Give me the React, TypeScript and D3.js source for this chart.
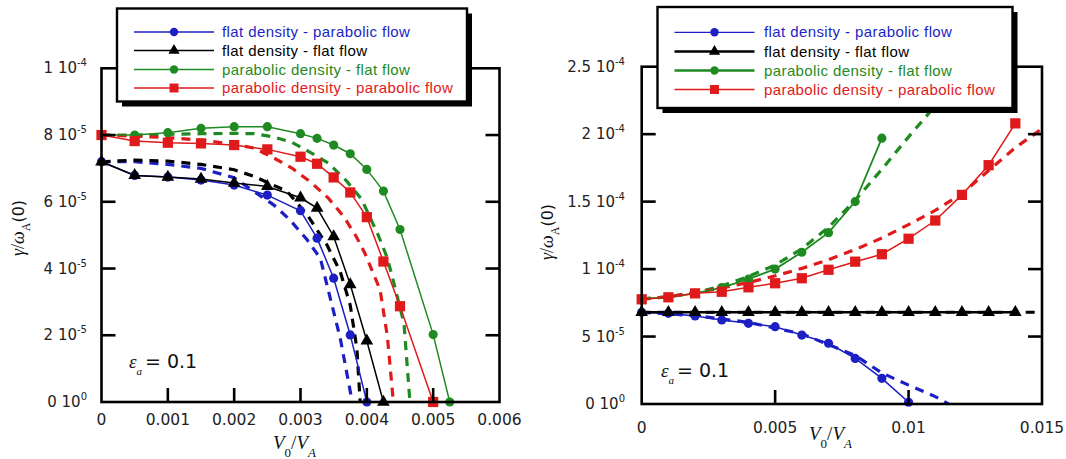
import React from "react";
import * as d3 from "d3";

const W = 1066;
const H = 459;

const BLUE = "#1c1fc4";
const BLACK = "#000000";
const GREEN = "#1f8a22";
const RED = "#e01a1a";

// ---------- LEFT PANEL DATA (gamma/omega_A in units of 1e-5) ----------
const L_xTicks = [0, 0.001, 0.002, 0.003, 0.004, 0.005, 0.006];
const L_xTickLabels = ["0", "0.001", "0.002", "0.003", "0.004", "0.005", "0.006"];
const L_yTicks = [0, 2e-5, 4e-5, 6e-5, 8e-5, 1e-4];
const L_yTickMant = ["0", "2", "4", "6", "8", "1"];
const L_yTickExp = ["0", "-5", "-5", "-5", "-5", "-4"];

const L_blueX = [0, 0.0005, 0.001, 0.0015, 0.002, 0.0025, 0.003, 0.00325, 0.0035, 0.00375, 0.004];
const L_blueY = [7.2, 6.79, 6.74, 6.65, 6.5, 6.2, 5.73, 4.91, 3.71, 2.01, 0];
const L_blackX = [0, 0.0005, 0.001, 0.0015, 0.002, 0.0025, 0.003, 0.00325, 0.0035, 0.00375, 0.004, 0.00425];
const L_blackY = [7.2, 6.79, 6.74, 6.68, 6.56, 6.46, 6.12, 5.81, 4.96, 3.52, 1.83, 0];
const L_greenX = [0, 0.0005, 0.001, 0.0015, 0.002, 0.0025, 0.003, 0.00325, 0.0035, 0.00375, 0.004, 0.00425, 0.0045, 0.005, 0.00525];
const L_greenY = [8.0, 8.0, 8.07, 8.2, 8.25, 8.25, 8.04, 7.9, 7.7, 7.44, 6.97, 6.32, 5.17, 2.02, 0];
const L_redX = [0, 0.0005, 0.001, 0.0015, 0.002, 0.0025, 0.003, 0.00325, 0.0035, 0.00375, 0.004, 0.00425, 0.0045, 0.005];
const L_redY = [8.0, 7.82, 7.77, 7.75, 7.7, 7.57, 7.35, 7.14, 6.73, 6.28, 5.54, 4.21, 2.87, 0];

const L_blueDashX = [0, 0.0005, 0.001, 0.0015, 0.002, 0.0023, 0.0026, 0.00284, 0.0031, 0.0033, 0.00345, 0.0036, 0.00378];
const L_blueDashY = [7.2, 7.2, 7.12, 7.0, 6.72, 6.31, 5.9, 5.46, 4.86, 4.3, 3.1, 1.9, 0];
const L_blackDashX = [0, 0.0005, 0.001, 0.0015, 0.002, 0.0023, 0.0028, 0.0031, 0.0034, 0.0036, 0.00375, 0.00385, 0.0039];
const L_blackDashY = [7.2, 7.25, 7.22, 7.12, 6.96, 6.76, 6.31, 5.61, 4.7, 3.9, 2.9, 1.6, 0];
const L_greenDashX = [0, 0.0005, 0.001, 0.0015, 0.002, 0.0023, 0.0026, 0.00287, 0.00314, 0.00342, 0.0037, 0.00392, 0.00417, 0.0043, 0.00437, 0.00456, 0.00465];
const L_greenDashY = [8.0, 8.0, 8.02, 8.04, 8.05, 8.04, 7.94, 7.78, 7.49, 7.16, 6.61, 6.08, 5.01, 4.36, 3.86, 2.36, 0];
const L_redDashX = [0, 0.0005, 0.001, 0.0015, 0.002, 0.0023, 0.0026, 0.00287, 0.00314, 0.00342, 0.00365, 0.00384, 0.00397, 0.0042, 0.00431, 0.0044];
const L_redDashY = [8.0, 7.97, 7.92, 7.85, 7.72, 7.61, 7.31, 7.01, 6.61, 6.11, 5.56, 4.96, 4.46, 3.36, 1.96, 0];

// ---------- RIGHT PANEL DATA (units of 1e-5) ----------
const R_xTicks = [0, 0.005, 0.01, 0.015];
const R_xTickLabels = ["0", "0.005", "0.01", "0.015"];
const R_yTicks = [0, 5e-5, 1e-4, 1.5e-4, 2e-4, 2.5e-4];
const R_yTickMant = ["0", "5", "1", "1.5", "2", "2.5"];
const R_yTickExp = ["0", "-5", "-4", "-4", "-4", "-4"];

const R_blueX = [0, 0.001, 0.002, 0.003, 0.004, 0.005, 0.006, 0.007, 0.008, 0.009, 0.01];
const R_blueY = [6.8, 6.72, 6.52, 6.23, 5.98, 5.73, 5.11, 4.5, 3.38, 1.9, 0.13];
const R_blackX = [0, 0.001, 0.002, 0.003, 0.004, 0.005, 0.006, 0.007, 0.008, 0.009, 0.01, 0.011, 0.012, 0.013, 0.014];
const R_blackY = [6.8, 6.8, 6.8, 6.8, 6.8, 6.8, 6.8, 6.8, 6.8, 6.8, 6.8, 6.8, 6.8, 6.8, 6.8];
const R_greenX = [0, 0.001, 0.002, 0.003, 0.004, 0.005, 0.006, 0.007, 0.008, 0.009];
const R_greenY = [7.8, 7.9, 8.2, 8.63, 9.25, 10.0, 11.25, 12.7, 15.0, 19.7];
const R_redX = [0, 0.001, 0.002, 0.003, 0.004, 0.005, 0.006, 0.007, 0.008, 0.009, 0.01, 0.011, 0.012, 0.013, 0.014];
const R_redY = [7.76, 7.91, 8.2, 8.32, 8.65, 8.95, 9.32, 9.95, 10.55, 11.1, 12.25, 13.6, 15.5, 17.7, 20.8];

const R_blueDashX = [0, 0.002, 0.004, 0.006, 0.008, 0.009, 0.01, 0.011, 0.0115];
const R_blueDashY = [6.8, 6.55, 6.05, 5.2, 3.6, 2.3, 1.4, 0.55, 0];
const R_blackDashX = [0, 0.005, 0.01, 0.015];
const R_blackDashY = [6.8, 6.8, 6.8, 6.8];
const R_greenDashX = [0, 0.001, 0.002, 0.003, 0.004, 0.005, 0.006, 0.007, 0.008, 0.009, 0.01, 0.011, 0.012, 0.013];
const R_greenDashY = [7.8, 7.95, 8.25, 8.75, 9.45, 10.3, 11.5, 13.1, 15.1, 17.4, 19.8, 22.1, 24.7, 27.3];
const R_redDashX = [0, 0.001, 0.002, 0.003, 0.004, 0.005, 0.006, 0.007, 0.008, 0.009, 0.01, 0.011, 0.012, 0.013, 0.014, 0.015];
const R_redDashY = [7.76, 7.95, 8.25, 8.6, 9.0, 9.5, 10.05, 10.7, 11.45, 12.3, 13.3, 14.35, 15.6, 17.3, 19.0, 20.4];

const legendLabels = [
  "flat density - parabolic flow",
  "flat density - flat flow",
  "parabolic density - flat flow",
  "parabolic density - parabolic flow",
];
const legendColors = [BLUE, BLACK, GREEN, RED];
const legendShapes = ["circle", "triangle", "circle", "square"];

type Series = {
  x: number[];
  y: number[];
  color: string;
  shape?: string;
  dashed?: boolean;
  width?: number;
};

type PanelCfg = {
  id: string;
  left: number;
  right: number;
  top: number;
  bottom: number;
  xMax: number;
  yMax: number;
  xTicks: number[];
  xTickLabels: string[];
  xInnerTicks: number[];
  yTicks: number[];
  yMant: string[];
  yExp: string[];
  series: Series[];
  legend: { x: number; y: number; w: number; h: number; lineX0: number; lineX1: number; textX: number; rows: number[]; widths: number[] };
  xTitle: { x: number; y: number };
  yTitle: { x: number; y: number };
  eps: { x: number; y: number };
  yLabelRight: number;
  xLabelBaseline: number;
};

function markerPath(shape: string, size: number) {
  const t =
    shape === "triangle" ? d3.symbolTriangle : shape === "square" ? d3.symbolSquare : d3.symbolCircle;
  return d3.symbol().type(t).size(size)() as string;
}

function markerSize(shape: string) {
  if (shape === "square") return 105;
  if (shape === "triangle") return 70;
  return 66;
}

function Panel({ cfg }: { cfg: PanelCfg }) {
  const xs = d3.scaleLinear().domain([0, cfg.xMax]).range([cfg.left, cfg.right]);
  const ys = d3.scaleLinear().domain([0, cfg.yMax]).range([cfg.bottom, cfg.top]);
  const line = d3
    .line<[number, number]>()
    .x((d) => xs(d[0]))
    .y((d) => ys(d[1] * 1e-5));
  const clipId = "clip-" + cfg.id;
  const tickLen = 14;
  const sans = "'DejaVu Sans', sans-serif";
  const serif = "'Liberation Serif', 'DejaVu Serif', serif";
  const lg = cfg.legend;

  return (
    <g>
      <defs>
        <clipPath id={clipId}>
          <rect x={cfg.left} y={cfg.top} width={cfg.right - cfg.left} height={cfg.bottom - cfg.top} />
        </clipPath>
      </defs>

      {/* series */}
      <g clipPath={`url(#${clipId})`}>
        {cfg.series.map((s, i) => {
          const pts = s.x.map((xv, j) => [xv, s.y[j]] as [number, number]);
          return (
            <g key={i}>
              <path
                d={line(pts) as string}
                fill="none"
                stroke={s.color}
                strokeWidth={s.width ?? (s.dashed ? 3.2 : 1.5)}
                strokeDasharray={s.dashed ? "9,7" : undefined}
              />
            </g>
          );
        })}
      </g>
      <g>
        {cfg.series
          .filter((s) => !s.dashed && s.shape)
          .map((s, i) =>
            s.x.map((xv, j) => (
              <path
                key={i + "-" + j}
                d={markerPath(s.shape as string, markerSize(s.shape as string))}
                transform={`translate(${xs(xv)},${ys(s.y[j] * 1e-5)})`}
                fill={s.color}
              />
            ))
          )}
      </g>

      {/* frame */}
      <rect
        x={cfg.left}
        y={cfg.top}
        width={cfg.right - cfg.left}
        height={cfg.bottom - cfg.top}
        fill="none"
        stroke="#000"
        strokeWidth={2.6}
      />
      {/* y ticks */}
      {cfg.yTicks.map((t, i) => (
        <g key={"yt" + i}>
          {i > 0 && i < cfg.yTicks.length - 1 && (
            <>
              <line x1={cfg.left} x2={cfg.left + tickLen} y1={ys(t)} y2={ys(t)} stroke="#000" strokeWidth={2.6} />
              <line x1={cfg.right} x2={cfg.right - tickLen} y1={ys(t)} y2={ys(t)} stroke="#000" strokeWidth={2.6} />
            </>
          )}
          <text
            x={cfg.yLabelRight}
            y={ys(t) + 5}
            textAnchor="end"
            fontFamily={sans}
            fontSize={15}
            fill="#222"
          >
            {cfg.yMant[i] + " 10"}
            <tspan dy={-7} fontSize={10}>
              {cfg.yExp[i]}
            </tspan>
          </text>
        </g>
      ))}
      {/* x ticks */}
      {cfg.xInnerTicks.map((t, i) => (
        <line key={"xi" + i} x1={xs(t)} x2={xs(t)} y1={cfg.bottom} y2={cfg.bottom - tickLen} stroke="#000" strokeWidth={2.6} />
      ))}
      {cfg.xTicks.map((t, i) => (
        <text
          key={"xt" + i}
          x={xs(t)}
          y={cfg.xLabelBaseline}
          textAnchor="middle"
          fontFamily={sans}
          fontSize={15.5}
          fill="#222"
        >
          {cfg.xTickLabels[i]}
        </text>
      ))}

      {/* epsilon label */}
      <text x={cfg.eps.x} y={cfg.eps.y} fontSize={19} fill="#111">
        <tspan fontFamily={serif} fontStyle="italic">ε</tspan>
        <tspan fontFamily={serif} fontStyle="italic" fontSize={11} dy={7}>a</tspan>
        <tspan fontFamily={sans} dy={-7} dx={3}>= 0.1</tspan>
      </text>

      {/* x title */}
      <text x={cfg.xTitle.x} y={cfg.xTitle.y} fontFamily={serif} fontSize={19} fill="#111">
        <tspan fontStyle="italic">V</tspan>
        <tspan fontSize={13} dy={8}>0</tspan>
        <tspan dy={-8}>/</tspan>
        <tspan fontStyle="italic">V</tspan>
        <tspan fontSize={13} fontStyle="italic" dy={8}>A</tspan>
      </text>

      {/* y title */}
      <text
        transform={`translate(${cfg.yTitle.x},${cfg.yTitle.y}) rotate(-90)`}
        textAnchor="middle"
        fontFamily={serif}
        fontSize={18}
        fill="#111"
      >
        <tspan fontStyle="italic">γ</tspan>
        <tspan>/</tspan>
        <tspan fontStyle="italic">ω</tspan>
        <tspan fontSize={12} dy={6}>A</tspan>
        <tspan dy={-6} fontFamily={sans} fontSize={16}>(0)</tspan>
      </text>

      {/* legend */}
      <rect x={lg.x + 5} y={lg.y + 5} width={lg.w} height={lg.h} fill="#000" />
      <rect x={lg.x} y={lg.y} width={lg.w} height={lg.h} fill="#fff" stroke="#000" strokeWidth={2.4} />
      {legendLabels.map((lab, i) => {
        const yy = lg.rows[i];
        const mx = (lg.lineX0 + lg.lineX1) / 2;
        return (
          <g key={"lg" + i}>
            <line x1={lg.lineX0} x2={lg.lineX1} y1={yy} y2={yy} stroke={legendColors[i]} strokeWidth={lg.widths[i]} />
            <path
              d={markerPath(legendShapes[i], legendShapes[i] === "square" ? 80 : 55)}
              transform={`translate(${mx},${yy})`}
              fill={legendColors[i]}
            />
            <text
              x={lg.textX}
              y={yy + 5}
              fontFamily="'Liberation Sans', Arial, sans-serif"
              fontSize={15}
              letterSpacing={0.4}
              fill={legendColors[i]}
            >
              {lab}
            </text>
          </g>
        );
      })}
    </g>
  );
}

const leftCfg: PanelCfg = {
  id: "L",
  left: 101.5,
  right: 499.5,
  top: 68.3,
  bottom: 402,
  xMax: 0.006,
  yMax: 1e-4,
  xTicks: L_xTicks,
  xTickLabels: L_xTickLabels,
  xInnerTicks: [0.001, 0.002, 0.003, 0.004, 0.005],
  yTicks: L_yTicks,
  yMant: L_yTickMant,
  yExp: L_yTickExp,
  series: [
    { x: L_blueDashX, y: L_blueDashY, color: BLUE, dashed: true },
    { x: L_blackDashX, y: L_blackDashY, color: BLACK, dashed: true },
    { x: L_greenDashX, y: L_greenDashY, color: GREEN, dashed: true },
    { x: L_redDashX, y: L_redDashY, color: RED, dashed: true },
    { x: L_blueX, y: L_blueY, color: BLUE, shape: "circle" },
    { x: L_blackX, y: L_blackY, color: BLACK, shape: "triangle" },
    { x: L_greenX, y: L_greenY, color: GREEN, shape: "circle" },
    { x: L_redX, y: L_redY, color: RED, shape: "square" },
  ],
  legend: { x: 117, y: 8.5, w: 350, h: 93, lineX0: 134, lineX1: 214, textX: 222, rows: [32, 50.5, 69.5, 88], widths: [1.3, 1.3, 1.3, 1.3] },
  xTitle: { x: 273, y: 449 },
  yTitle: { x: 24, y: 228 },
  eps: { x: 129, y: 368 },
  yLabelRight: 87,
  xLabelBaseline: 425,
};

const rightCfg: PanelCfg = {
  id: "R",
  left: 641.7,
  right: 1042,
  top: 66.7,
  bottom: 404,
  xMax: 0.015,
  yMax: 2.5e-4,
  xTicks: R_xTicks,
  xTickLabels: R_xTickLabels,
  xInnerTicks: [0.005, 0.01],
  yTicks: R_yTicks,
  yMant: R_yTickMant,
  yExp: R_yTickExp,
  series: [
    { x: R_blueDashX, y: R_blueDashY, color: BLUE, dashed: true },
    { x: R_blackDashX, y: R_blackDashY, color: BLACK, dashed: true },
    { x: R_greenDashX, y: R_greenDashY, color: GREEN, dashed: true },
    { x: R_redDashX, y: R_redDashY, color: RED, dashed: true },
    { x: R_blueX, y: R_blueY, color: BLUE, shape: "circle", width: 1.6 },
    { x: R_blackX, y: R_blackY, color: BLACK, shape: "triangle", width: 2.4 },
    { x: R_greenX, y: R_greenY, color: GREEN, shape: "circle", width: 1.8 },
    { x: R_redX, y: R_redY, color: RED, shape: "square", width: 1.5 },
  ],
  legend: { x: 657.5, y: 7, w: 355, h: 101, lineX0: 674.5, lineX1: 754.5, textX: 764, rows: [32.3, 51.5, 70.5, 89.5], widths: [1.3, 2.6, 2.6, 1.3] },
  xTitle: { x: 809, y: 440 },
  yTitle: { x: 553, y: 232 },
  eps: { x: 661, y: 377 },
  yLabelRight: 625,
  xLabelBaseline: 433,
};

export default function App() {
  return (
    <svg width={W} height={H} viewBox={`0 0 ${W} ${H}`} style={{ position: "absolute", left: 0, top: 0, background: "#fff" }}>
      <rect x={0} y={0} width={W} height={H} fill="#fff" />
      <Panel cfg={leftCfg} />
      <Panel cfg={rightCfg} />
    </svg>
  );
}
